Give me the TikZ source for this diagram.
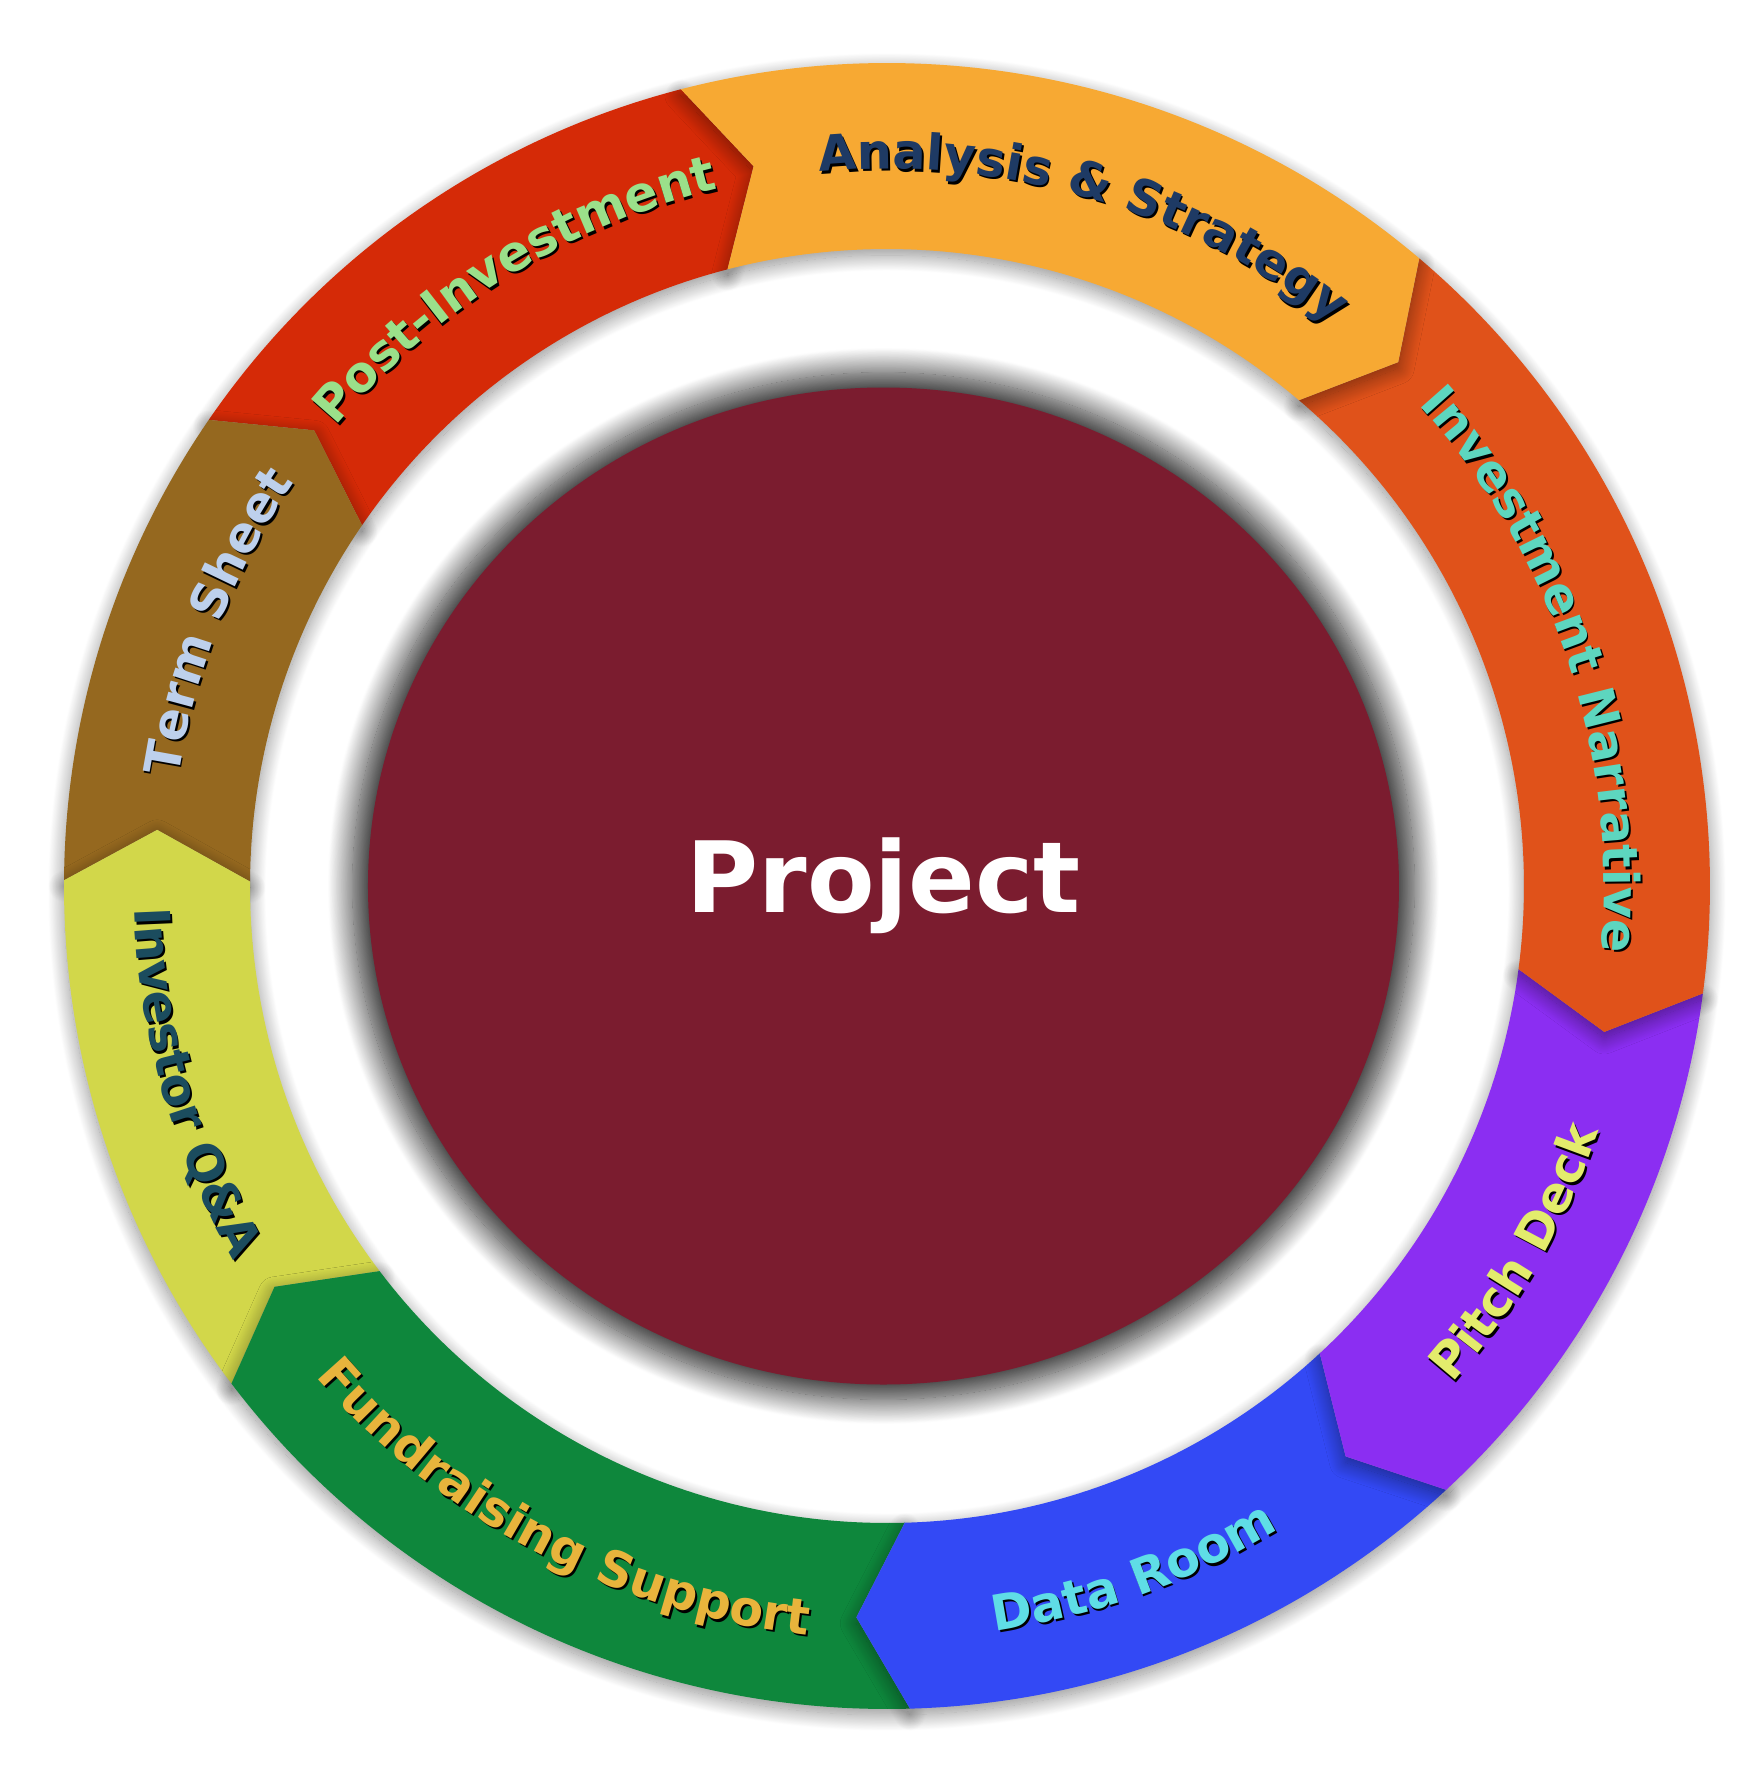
\documentclass[tikz,border=0pt]{standalone}
\usepackage{fontspec}
\newfontfamily\labelfont{DejaVu Sans}
\usetikzlibrary{decorations.text,shadows.blur,shapes.geometric}

\definecolor{analysisorange}{HTML}{F7A933}
\definecolor{narrativeorange}{HTML}{E0521A}
\definecolor{pitchpurple}{HTML}{8B2EF2}
\definecolor{roomblue}{HTML}{3349F5}
\definecolor{fundgreen}{HTML}{0E873C}
\definecolor{qayellow}{HTML}{D2D74A}
\definecolor{termbrown}{HTML}{95681F}
\definecolor{postred}{HTML}{D52A07}
\definecolor{hubred}{HTML}{7B1C2F}
\definecolor{analysistext}{HTML}{1E3A64}
\definecolor{narrativetext}{HTML}{5DD6BF}
\definecolor{pitchtext}{HTML}{E3EC6C}
\definecolor{roomtext}{HTML}{5FDDE6}
\definecolor{fundtext}{HTML}{E8B43C}
\definecolor{qatext}{HTML}{1B4C5E}
\definecolor{termtext}{HTML}{BDD0EC}
\definecolor{posttext}{HTML}{9BE08A}

\tikzset{
  segment/.style={blur shadow={shadow xshift=0pt, shadow yshift=-0.6mm, shadow blur radius=1.6mm, shadow blur steps=30, shadow opacity=45}},
  ringlabel/.style 2 args={decorate, decoration={text along path, text align=center,
      text={|\labelfont\bfseries\fontsize{14}{16}\selectfont\color{#1}|#2}}},
  labelshadow/.style={shift={(0.018,-0.022)}, opacity=0.5},
  hub/.style={ellipse, fill=hubred, inner sep=0pt, minimum width=10.31cm, minimum height=9.97cm,
      text=white, font=\labelfont\bfseries\fontsize{28}{32}\selectfont,
      blur shadow={shadow xshift=0pt, shadow yshift=0pt, shadow scale=1.03, shadow blur radius=2.4mm, shadow blur steps=30, shadow opacity=85}}
}

\begin{document}
\begin{tikzpicture}
            \useasboundingbox (-8.87,-8.88) rectangle (8.77,8.86);
            % ring, drawn so that every arrow lies over the one before it
            \fill[segment, fill=postred] (145.5:8.23) arc[start angle=145.5, end angle=104.5, radius=8.23] -- (100.5:7.32) -- (104.5:6.37) arc[start angle=104.5, end angle=145.5, radius=6.37] -- (141.5:7.32) -- cycle;
            \fill[segment, fill=termbrown] (179.6:8.23) arc[start angle=179.6, end angle=145.5, radius=8.23] -- (141.5:7.32) -- (145.5:6.37) arc[start angle=145.5, end angle=179.6, radius=6.37] -- (175.6:7.32) -- cycle;
            \fill[segment, fill=qayellow] (217.2:8.23) arc[start angle=217.2, end angle=179.6, radius=8.23] -- (175.6:7.32) -- (179.6:6.37) arc[start angle=179.6, end angle=217.2, radius=6.37] -- (213.2:7.32) -- cycle;
            \fill[segment, fill=fundgreen] (271.6:8.23) arc[start angle=271.6, end angle=217.2, radius=8.23] -- (213.2:7.32) -- (217.2:6.37) arc[start angle=217.2, end angle=271.6, radius=6.37] -- (267.6:7.32) -- cycle;
            \fill[segment, fill=roomblue] (312.8:8.23) arc[start angle=312.8, end angle=271.6, radius=8.23] -- (267.6:7.32) -- (271.6:6.37) arc[start angle=271.6, end angle=312.8, radius=6.37] -- (308.8:7.32) -- cycle;
            \fill[segment, fill=pitchpurple] (352.5:8.23) arc[start angle=352.5, end angle=312.8, radius=8.23] -- (308.8:7.32) -- (312.8:6.37) arc[start angle=312.8, end angle=352.5, radius=6.37] -- (348.5:7.32) -- cycle;
            \fill[segment, fill=narrativeorange] (409.7:8.23) arc[start angle=409.7, end angle=352.5, radius=8.23] -- (348.5:7.32) -- (352.5:6.37) arc[start angle=352.5, end angle=409.7, radius=6.37] -- (405.7:7.32) -- cycle;
            \fill[segment, fill=analysisorange] (464.5:8.23) arc[start angle=464.5, end angle=409.7, radius=8.23] -- (405.7:7.32) -- (409.7:6.37) arc[start angle=409.7, end angle=464.5, radius=6.37] -- (460.5:7.32) -- cycle;
            % labels on the upper half
            \path[ringlabel={black}{Analysis {\&} Strategy}, labelshadow] (113.5:7.17) arc[start angle=113.5, end angle=33.5, radius=7.17];
            \path[ringlabel={analysistext}{Analysis {\&} Strategy}] (113.5:7.17) arc[start angle=113.5, end angle=33.5, radius=7.17];
            \path[ringlabel={black}{Investment Narrative}, labelshadow] (58.5:7.17) arc[start angle=58.5, end angle=-21.5, radius=7.17];
            \path[ringlabel={narrativetext}{Investment Narrative}] (58.5:7.17) arc[start angle=58.5, end angle=-21.5, radius=7.17];
            \path[ringlabel={black}{Term Sheet}, labelshadow] (198.5:7.17) arc[start angle=198.5, end angle=118.5, radius=7.17];
            \path[ringlabel={termtext}{Term Sheet}] (198.5:7.17) arc[start angle=198.5, end angle=118.5, radius=7.17];
            \path[ringlabel={black}{Post-Investment}, labelshadow] (161.9:7.17) arc[start angle=161.9, end angle=81.9, radius=7.17];
            \path[ringlabel={posttext}{Post-Investment}] (161.9:7.17) arc[start angle=161.9, end angle=81.9, radius=7.17];
            % labels on the lower half
            \path[ringlabel={black}{Pitch Deck}, labelshadow] (-70.2:7.53) arc[start angle=-70.2, end angle=9.8, radius=7.53];
            \path[ringlabel={pitchtext}{Pitch Deck}] (-70.2:7.53) arc[start angle=-70.2, end angle=9.8, radius=7.53];
            \path[ringlabel={black}{Data Room}, labelshadow] (-110.2:7.53) arc[start angle=-110.2, end angle=-30.2, radius=7.53];
            \path[ringlabel={roomtext}{Data Room}] (-110.2:7.53) arc[start angle=-110.2, end angle=-30.2, radius=7.53];
            \path[ringlabel={black}{Fundraising Support}, labelshadow] (-157.7:7.53) arc[start angle=-157.7, end angle=-77.7, radius=7.53];
            \path[ringlabel={fundtext}{Fundraising Support}] (-157.7:7.53) arc[start angle=-157.7, end angle=-77.7, radius=7.53];
            \path[ringlabel={black}{Investor Q{\&}A}, labelshadow] (-204.2:7.53) arc[start angle=-204.2, end angle=-124.2, radius=7.53];
            \path[ringlabel={qatext}{Investor Q{\&}A}] (-204.2:7.53) arc[start angle=-204.2, end angle=-124.2, radius=7.53];
            % centre
            \node[hub] (project) at (-0.035,0) {Project};
        \end{tikzpicture}
\end{document}
